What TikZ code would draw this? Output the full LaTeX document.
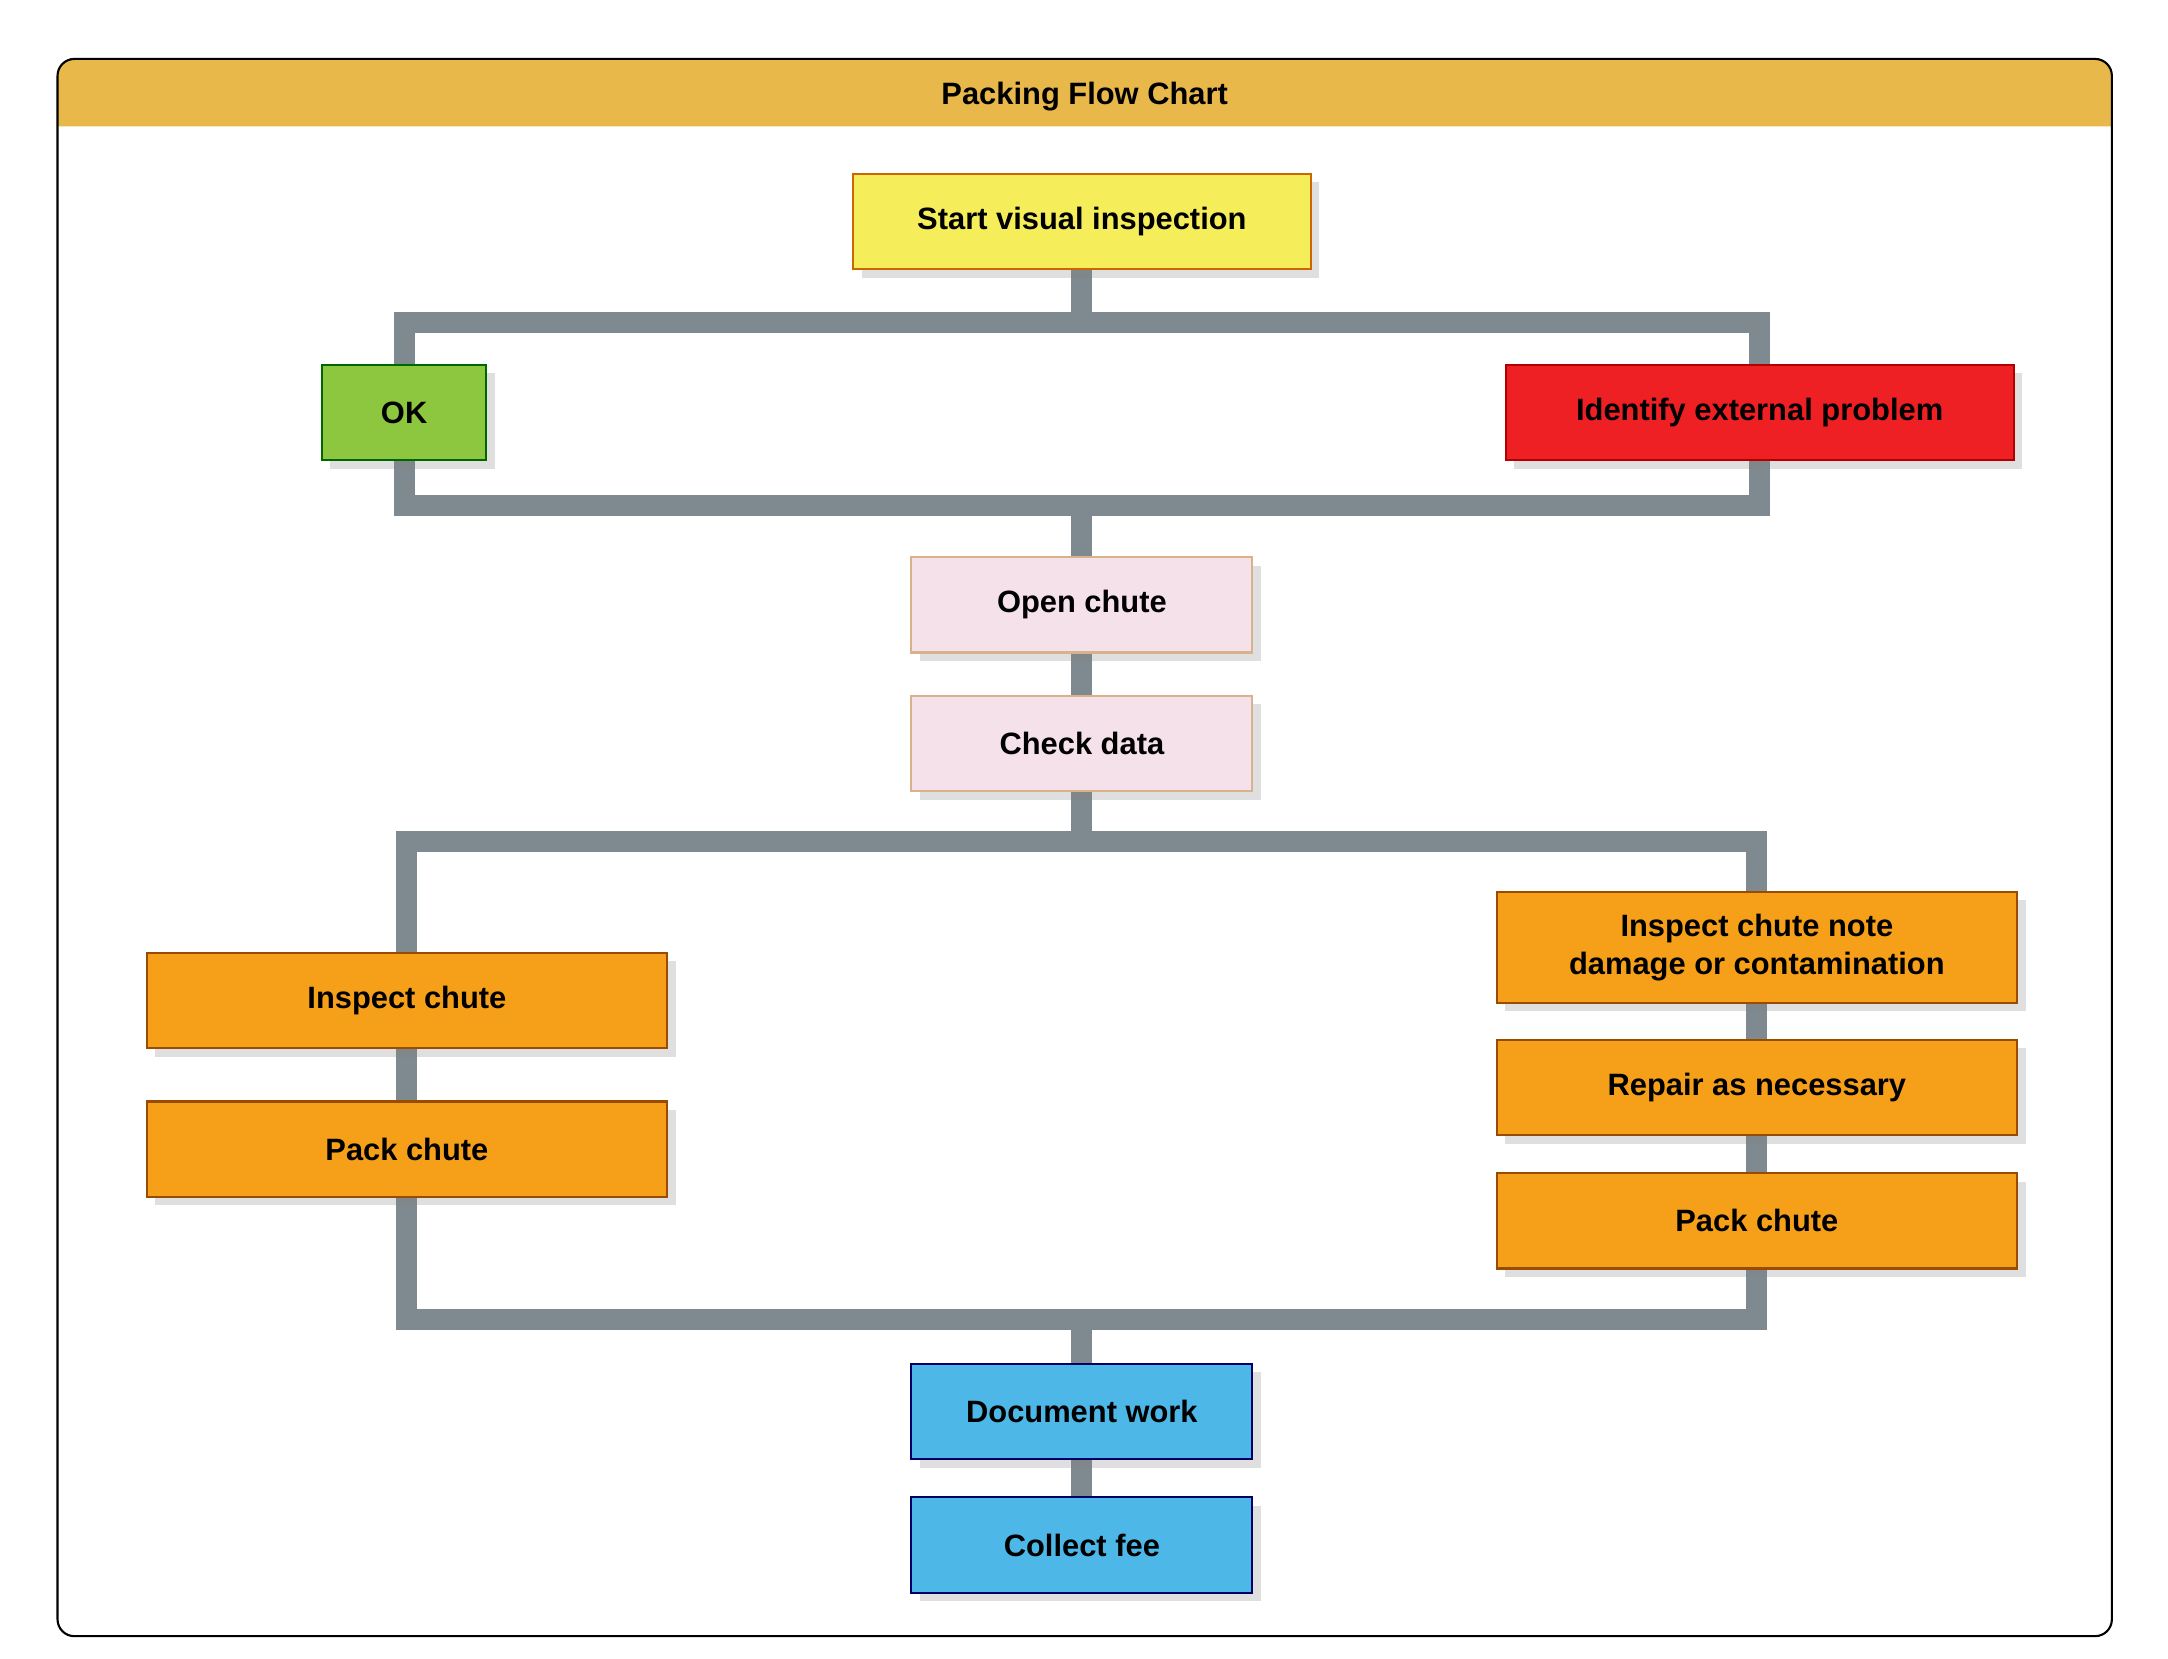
\documentclass[tikz,border=0pt]{standalone}
\usepackage{fontspec}
\setmainfont{Liberation Sans}
\usetikzlibrary{shadows,backgrounds}
\definecolor{pipegray}{HTML}{7F8A90}
\definecolor{headfill}{HTML}{E8B84A}
\definecolor{startfill}{HTML}{F5EE5A}
\definecolor{okfill}{HTML}{8DC63F}
\definecolor{badfill}{HTML}{EE2024}
\definecolor{pinkfill}{HTML}{F5E1EA}
\definecolor{orangefill}{HTML}{F6A01A}
\definecolor{bluefill}{HTML}{4DB8E8}
\tikzset{
box/.style={
  rectangle, draw, line width=1.5pt,
  minimum height=68pt, align=center,
  font=\fontsize{22}{27}\selectfont\bfseries,
  drop shadow={opacity=0.25,shadow xshift=6pt,shadow yshift=-6pt}
},
pipe/.style={draw=pipegray, line width=15pt},
}
\begin{document}
\begin{tikzpicture}[x=1pt,y=-1pt]
\useasboundingbox (0,0) rectangle (1545,1182);
% frame and header
\begin{pgfonlayer}{background}
\fill[white, rounded corners=12pt] (41,42) rectangle (1505,1166);
\fill[headfill] (41,90) [rounded corners=12pt]-- (41,42) -- (1505,42) [sharp corners]-- (1505,90) -- cycle;
\draw[line width=1.5pt, rounded corners=12pt] (41,42) rectangle (1505,1166);
\end{pgfonlayer}
\node[font=\fontsize{22}{27}\selectfont\bfseries] (title) at (773,69) {Packing Flow Chart};
% boxes
\node[box, fill=startfill, draw=orange!80!black, minimum width=326pt] (start) at (771,158) {Start visual inspection};
\node[box, fill=okfill, draw=green!40!black, minimum width=117pt] (ok) at (288,294) {OK};
\node[box, fill=badfill, draw=red!70!black, minimum width=362pt] (idp) at (1254,294) {Identify external problem};
\node[box, fill=pinkfill, draw=brown!60, minimum width=243pt] (open) at (771,431) {Open chute};
\node[box, fill=pinkfill, draw=brown!60, minimum width=243pt] (check) at (771,530) {Check data};
\node[box, fill=orangefill, draw=orange!60!black, minimum width=371pt] (ic) at (290,713) {Inspect chute};
\node[box, fill=orangefill, draw=orange!60!black, minimum width=371pt] (pcl) at (290,819) {Pack chute};
\node[box, fill=orangefill, draw=orange!60!black, minimum width=371pt, minimum height=79pt] (icn) at (1252,675) {Inspect chute note\\damage or contamination};
\node[box, fill=orangefill, draw=orange!60!black, minimum width=371pt] (rep) at (1252,775) {Repair as necessary};
\node[box, fill=orangefill, draw=orange!60!black, minimum width=371pt] (pcr) at (1252,870) {Pack chute};
\node[box, fill=bluefill, draw=blue!40!black, minimum width=243pt] (doc) at (771,1006) {Document work};
\node[box, fill=bluefill, draw=blue!40!black, minimum width=243pt] (fee) at (771,1101) {Collect fee};
% the pipes
\begin{pgfonlayer}{background}
\draw[pipe] (ok.center |- 0,230) rectangle (idp.center |- 0,360);
\draw[pipe] (start) -- (start |- 0,230);
\draw[pipe] (open |- 0,360) -- (open);
\draw[pipe] (open) -- (check);
\draw[pipe] (ic.center |- 0,600) rectangle (icn.center |- 0,940);
\draw[pipe] (check) -- (check |- 0,600);
\draw[pipe] (doc |- 0,940) -- (doc);
\draw[pipe] (doc) -- (fee);
\end{pgfonlayer}
\end{tikzpicture}
\end{document}
